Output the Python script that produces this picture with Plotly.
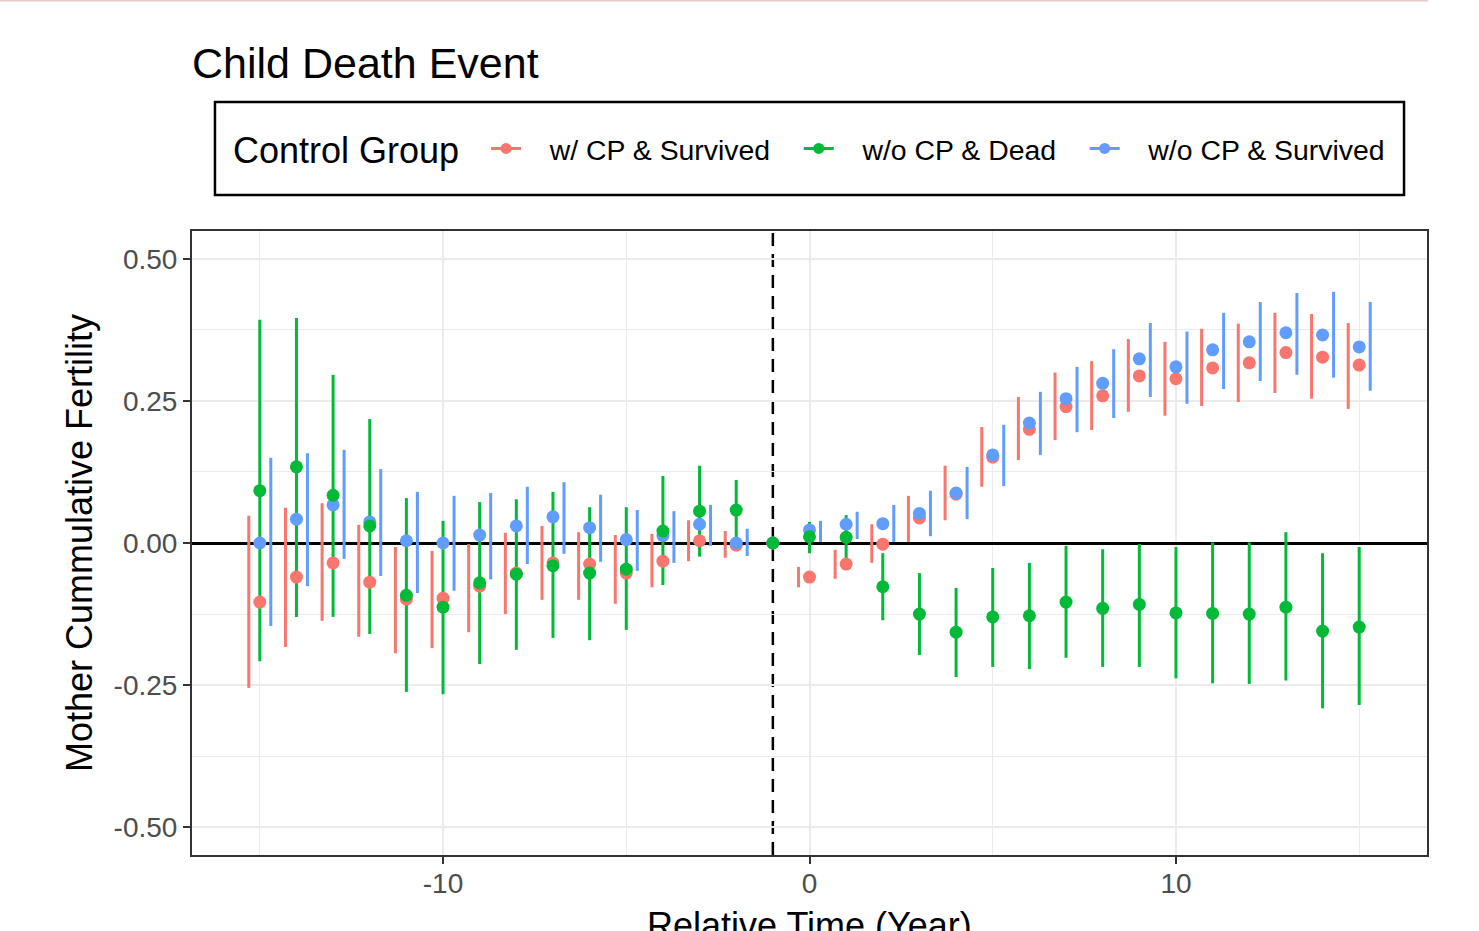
"""Child death event study: cumulative fertility by control group."""

import numpy as np
import plotly.graph_objects as go

FONT = "Arial, Liberation Sans, sans-serif"
NB = "\u00a0"

YEARS = list(range(-15, 16))
EVENT_TIME = -1

# w/ CP & Survived
WCP_SURV_EST = [-0.104, -0.060, -0.035, -0.069, -0.099, -0.097, -0.076, -0.053, -0.035, -0.037,
                -0.053, -0.032, 0.004, -0.004, 0.0, -0.060, -0.037, -0.002, 0.044, 0.086,
                0.151, 0.200, 0.240, 0.259, 0.294, 0.289, 0.308, 0.317, 0.335, 0.327, 0.313]
WCP_SURV_LO = [-0.255, -0.183, -0.137, -0.165, -0.194, -0.185, -0.157, -0.125, -0.100, -0.100,
               -0.107, -0.078, -0.032, -0.026, 0.0, -0.078, -0.063, -0.035, 0.002, 0.040,
               0.099, 0.146, 0.181, 0.199, 0.231, 0.224, 0.241, 0.248, 0.264, 0.254, 0.236]
WCP_SURV_HI = [0.048, 0.062, 0.070, 0.032, -0.007, -0.014, -0.002, 0.018, 0.030, 0.019,
               0.014, 0.016, 0.040, 0.021, 0.0, -0.042, -0.012, 0.033, 0.083, 0.136,
               0.204, 0.257, 0.300, 0.320, 0.359, 0.354, 0.377, 0.386, 0.405, 0.403, 0.387]

# w/o CP & Dead
WOCP_DEAD_EST = [0.092, 0.134, 0.084, 0.030, -0.092, -0.113, -0.070, -0.055, -0.040, -0.053,
                 -0.046, 0.021, 0.056, 0.058, 0.0, 0.011, 0.010, -0.077, -0.125, -0.157,
                 -0.130, -0.128, -0.104, -0.115, -0.108, -0.123, -0.124, -0.125, -0.113, -0.155, -0.148]
WOCP_DEAD_LO = [-0.208, -0.130, -0.130, -0.160, -0.262, -0.266, -0.213, -0.188, -0.167, -0.171,
                -0.153, -0.074, -0.024, 0.000, 0.0, -0.018, -0.033, -0.136, -0.197, -0.236,
                -0.218, -0.222, -0.202, -0.218, -0.218, -0.238, -0.247, -0.248, -0.242, -0.291, -0.285]
WOCP_DEAD_HI = [0.393, 0.396, 0.296, 0.218, 0.079, 0.039, 0.072, 0.077, 0.090, 0.063,
                0.063, 0.118, 0.136, 0.111, 0.0, 0.037, 0.049, -0.018, -0.053, -0.079,
                -0.044, -0.035, -0.005, -0.011, -0.002, -0.007, 0.001, 0.001, 0.019, -0.018, -0.007]

# w/o CP & Survived
WOCP_SURV_EST = [0.000, 0.042, 0.067, 0.037, 0.004, 0.000, 0.014, 0.030, 0.046, 0.027,
                 0.006, 0.013, 0.033, 0.000, 0.0, 0.023, 0.033, 0.034, 0.052, 0.088,
                 0.155, 0.211, 0.254, 0.281, 0.324, 0.310, 0.340, 0.354, 0.370, 0.366, 0.345]
WOCP_SURV_LO = [-0.146, -0.076, -0.028, -0.058, -0.088, -0.084, -0.064, -0.037, -0.019, -0.033,
                -0.049, -0.035, -0.005, -0.023, 0.0, 0.002, 0.007, 0.002, 0.012, 0.042,
                0.100, 0.155, 0.195, 0.220, 0.257, 0.245, 0.271, 0.285, 0.296, 0.291, 0.268]
WOCP_SURV_HI = [0.150, 0.158, 0.164, 0.130, 0.090, 0.083, 0.088, 0.099, 0.107, 0.085,
                0.058, 0.056, 0.067, 0.025, 0.0, 0.039, 0.055, 0.067, 0.092, 0.134,
                0.208, 0.266, 0.310, 0.341, 0.387, 0.372, 0.405, 0.424, 0.440, 0.442, 0.424]

X_TICKS = [-10, 0, 10]
X_TICK_LABELS = ["-10", "0", "10"]
Y_TICKS = [-0.5, -0.25, 0, 0.25, 0.5]
Y_TICK_LABELS = ["-0.50", "-0.25", "0.00", "0.25", "0.50"]

GROUPS = ["w/ CP & Survived", "w/o CP & Dead", "w/o CP & Survived"]
COLORS = {"w/ CP & Survived": "#F8766D", "w/o CP & Dead": "#00BA38", "w/o CP & Survived": "#619CFF"}
DODGE = {"w/ CP & Survived": -0.3, "w/o CP & Dead": 0.0, "w/o CP & Survived": 0.3}
SERIES = {
    "w/ CP & Survived": (WCP_SURV_EST, WCP_SURV_LO, WCP_SURV_HI),
    "w/o CP & Dead": (WOCP_DEAD_EST, WOCP_DEAD_LO, WOCP_DEAD_HI),
    "w/o CP & Survived": (WOCP_SURV_EST, WOCP_SURV_LO, WOCP_SURV_HI),
}

fig = go.Figure()
x = np.array(YEARS, dtype=float)

# line ranges (dodged), drawn first
for g in GROUPS:
    est, lo, hi = (np.array(a) for a in SERIES[g])
    fig.add_trace(go.Scatter(
        x=x + DODGE[g], y=est, mode="markers",
        marker=dict(size=1, opacity=0),
        error_y=dict(type="data", symmetric=False, array=hi - est, arrayminus=est - lo,
                     color=COLORS[g], thickness=3, width=0),
        showlegend=False, hoverinfo="skip",
    ))

# points, green on top
for g in ["w/ CP & Survived", "w/o CP & Survived", "w/o CP & Dead"]:
    fig.add_trace(go.Scatter(
        x=x, y=SERIES[g][0], mode="markers", name=g,
        marker=dict(size=13, color=COLORS[g]),
        showlegend=False,
    ))

# legend keys (padded so the short plotly keys line up with ggplot's)
for i, g in enumerate(GROUPS):
    lead = NB * 3
    trail = NB * 3 if i < len(GROUPS) - 1 else ""
    fig.add_trace(go.Scatter(
        x=[None], y=[None], mode="lines+markers", name=lead + g + trail,
        line=dict(color=COLORS[g], width=3), marker=dict(size=11, color=COLORS[g]),
    ))

axis = dict(
    automargin=False,
    showgrid=True, gridcolor="#EBEBEB", gridwidth=2,
    showline=True, mirror=True, linecolor="#333333", linewidth=2,
    ticks="outside", ticklen=7, tickwidth=2, tickcolor="#333333",
    tickfont=dict(family=FONT, size=28, color="#4D4D4D"),
    title_font=dict(family=FONT, size=36, color="black"),
)

fig.update_layout(
    width=1479, height=931,
    paper_bgcolor="white", plot_bgcolor="white",
    margin=dict(l=192, r=52, t=231, b=76),
    font=dict(family=FONT, color="black"),
    title=dict(text="Child Death Event", font=dict(family=FONT, size=43, color="black"),
               xref="paper", x=0, xanchor="left", yref="container", y=0.932, yanchor="middle"),
    xaxis=dict(axis, range=[-16.85, 16.85], tickmode="array",
               tickvals=X_TICKS, ticktext=X_TICK_LABELS, ticklabelstandoff=-5,
               zeroline=False,
               minor=dict(dtick=5, tick0=0, showgrid=True, gridcolor="#EBEBEB", gridwidth=1, ticks="")),
    yaxis=dict(axis, range=[-0.549, 0.549], tickmode="array",
               tickvals=Y_TICKS, ticktext=Y_TICK_LABELS,
               zeroline=True, zerolinecolor="black", zerolinewidth=2.5,
               title=dict(text="Mother Cummulative Fertility", standoff=10),
               minor=dict(tickvals=[-0.375, -0.125, 0.125, 0.375], showgrid=True,
                          gridcolor="#EBEBEB", gridwidth=1, ticks="")),
    legend=dict(
        orientation="h", xref="paper", yref="paper", x=0.2381, xanchor="left",
        y=1.1322, yanchor="middle", borderwidth=0, bgcolor="rgba(0,0,0,0)",
        font=dict(family=FONT, size=28.4, color="black"),
    ),
    annotations=[
        dict(text="Control Group", xref="paper", yref="paper", x=0.0316, y=1.1298,
             xanchor="left", yanchor="middle", showarrow=False,
             font=dict(family=FONT, size=36, color="black")),
        dict(text="Relative Time (Year)", xref="paper", yref="paper", x=0.5, y=-0.0769,
             xanchor="center", yanchor="top", showarrow=False,
             font=dict(family=FONT, size=36, color="black")),
    ],
    shapes=[
        dict(type="line", xref="x", yref="paper", x0=EVENT_TIME, x1=EVENT_TIME, y0=0, y1=1,
             line=dict(color="black", width=2.5, dash="13px,8px"), layer="between"),
        dict(type="rect", xref="paper", yref="paper", x0=0.0186, x1=0.9814, y0=1.0577, y1=1.2067,
             line=dict(color="black", width=2.5), fillcolor="rgba(0,0,0,0)"),
        dict(type="line", xref="paper", yref="paper", x0=-0.1555, x1=1.0008, y0=1.3694, y1=1.3694,
             line=dict(color="#E3CCC6", width=2)),
    ],
)

fig.write_html("out.html", config={"displayModeBar": False},
               post_script="document.body.style.margin='0';")
